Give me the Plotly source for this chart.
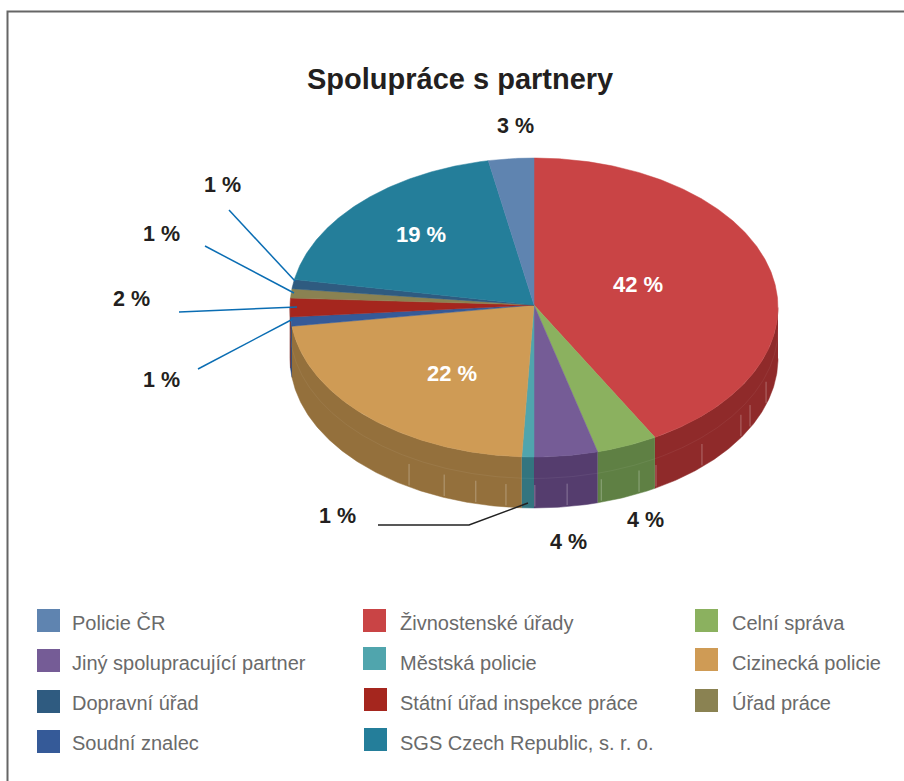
import numpy as np
import plotly.graph_objects as go

# --- data -----------------------------------------------------------------
categories = ["Živnostenské úřady", "Celní správa", "Jiný spolupracující partner",
              "Městská policie", "Cizinecká policie", "Soudní znalec",
              "Státní úřad inspekce práce", "Úřad práce", "Dopravní úřad",
              "SGS Czech Republic, s. r. o.", "Policie ČR"]
values = [41.75, 4.05, 4.2, 0.8, 22.2, 1, 2, 1, 1, 19, 3]
top_colors = ["#C94445", "#8BB15F", "#755C96", "#50A5AD", "#CF9B55", "#355A98",
              "#A5261E", "#8A8252", "#2F5B80", "#247E9A", "#5F84B0"]
side_colors = ["#8F2A2A", "#5F8044", "#553D6E", "#33757F", "#94703C", "#2C4470",
               "#7A1C16", "#665F3C", "#22435F", "#1A5D72", "#466185"]
legend_rows = [
    ("Policie ČR", 37, 620.5, 70, 622.5), ("Živnostenské úřady", 363, 620.5, 397.5, 622.5), ("Celní správa", 695, 620.5, 729.5, 622.5),
    ("Jiný spolupracující partner", 37, 660.5, 70, 662.5), ("Městská policie", 363, 658.5, 397.5, 662.5), ("Cizinecká policie", 695, 659.5, 729.5, 662.5),
    ("Dopravní úřad", 37, 701.5, 70, 702.5), ("Státní úřad inspekce práce", 364, 699.5, 397.5, 702.5), ("Úřad práce", 695, 700.5, 729.5, 702.5),
    ("Soudní znalec", 37, 741.5, 70, 742.5), ("SGS Czech Republic, s. r. o.", 364, 739.5, 397.5, 742.5),
]
outer_labels = [("3 %", 515, 126), ("1 %", 222, 185), ("1 %", 161, 234), ("2 %", 131, 299),
                ("1 %", 161, 380), ("1 %", 337, 516), ("4 %", 568, 542), ("4 %", 645, 520)]
inner_labels = [("42 %", 638, 284), ("19 %", 421, 234), ("22 %", 452, 373)]
glint_angles = [210.8, 201.6, 193.8, 186.6, 179.8, 172.2, 164, 154.5, 150, 136.5, 122, 117.7, 108]

# --- geometry of the tilted pie ---------------------------------------------
CX, CY, RX, RY = 534, 307.5, 244, 149.5
APEX_Y, DEPTH = 305, 51
FONT = "Liberation Sans"

def arc(a0, a1, shift=0.0):
    t = np.radians(np.linspace(a0, a1, max(3, int(abs(a1 - a0) * 2))))
    return CX + RX * np.sin(t), CY - RY * np.cos(t) + shift

fig = go.Figure()

def poly(x, y, color):
    fig.add_trace(go.Scatter(x=list(x), y=list(y), mode="lines", fill="toself", fillcolor=color,
                             line=dict(color=color, width=0.5), hoverinfo="skip", showlegend=False))

def line(x, y, color, width):
    fig.add_trace(go.Scatter(x=x, y=y, mode="lines", line=dict(color=color, width=width),
                             hoverinfo="skip", showlegend=False))

edges = np.cumsum([0] + values) / sum(values) * 360

# side wall
for i in range(len(values)):
    a0, a1 = max(edges[i], 90), min(edges[i + 1], 270)
    if a1 <= a0:
        continue
    x, y = arc(a0, a1)
    xb, yb = arc(a0, a1, DEPTH)
    poly(np.r_[x, xb[::-1]], np.r_[y, yb[::-1]], side_colors[i])
    xm, ym = arc(a0, a1, DEPTH * 0.42)
    line(list(xm), list(ym), "rgba(255,255,255,0.06)", 1)

# thin highlights on the side wall
for a in glint_angles:
    r = np.radians(a)
    gx = CX + RX * np.sin(r)
    gy = CY - RY * np.cos(r)
    line([gx, gx], [gy + DEPTH * 0.55, gy + DEPTH * 0.97], "rgba(255,255,255,0.3)", 1)

# top face
for i in range(len(values)):
    x, y = arc(edges[i], edges[i + 1])
    poly(np.r_[CX, x, CX], np.r_[APEX_Y, y, APEX_Y], top_colors[i])

# leader lines
for (x0, y0, x1, y1) in [(229, 210, 295, 281), (205, 246, 294, 293), (179, 312, 297, 307), (198, 369, 293, 319)]:
    line([x0, x1], [y0, y1], "#0A6DB3", 1.5)
line([378, 469, 528], [525, 525, 503], "#222222", 1.5)

# frame
line([7.5, 7.5, 904], [781, 11.5, 11.5], "#666666", 2)

# legend swatches
color_of = dict(zip(categories, top_colors))
for name, x, y, tx, ty in legend_rows:
    fig.add_trace(go.Scatter(x=[x + 11.5], y=[y], mode="markers",
                             marker=dict(symbol="square", size=23, color=color_of[name], line=dict(width=0)),
                             hoverinfo="skip", showlegend=False))

ann = []
for name, x, y, tx, ty in legend_rows:
    ann.append(dict(x=tx, y=ty, text=name, xanchor="left", yanchor="middle", showarrow=False,
                    font=dict(family=FONT, size=20, color="#6A6A6A")))
for t, x, y in outer_labels:
    ann.append(dict(x=x, y=y, text=f"<b>{t}</b>", showarrow=False, font=dict(family=FONT, size=21.5, color="#231F20")))
for t, x, y in inner_labels:
    ann.append(dict(x=x, y=y, text=f"<b>{t}</b>", showarrow=False, font=dict(family=FONT, size=22, color="#FFFFFF")))
ann.append(dict(x=460, y=79, text="<b>Spolupráce s partnery</b>", showarrow=False,
                font=dict(family=FONT, size=29, color="#231F20")))

fig.update_layout(width=904, height=781, margin=dict(l=0, r=0, t=0, b=0), autosize=False,
                  paper_bgcolor="white", plot_bgcolor="white", annotations=ann, showlegend=False,
                  xaxis=dict(range=[0, 904], visible=False, fixedrange=True),
                  yaxis=dict(range=[781, 0], visible=False, fixedrange=True))
fig.write_html("out.html", config=dict(displayModeBar=False),
               post_script="document.body.style.margin='0';document.body.style.overflow='hidden';")
